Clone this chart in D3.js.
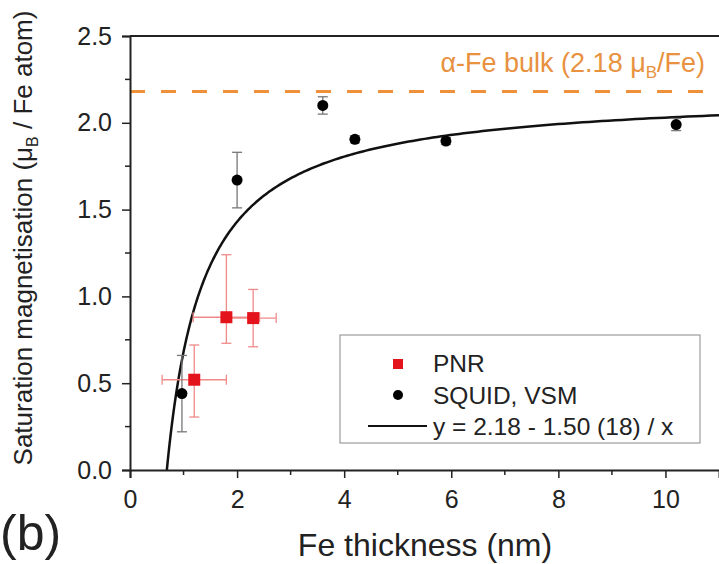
<!DOCTYPE html>
<html>
<head>
<meta charset="utf-8">
<script src="https://cdn.jsdelivr.net/npm/d3@7"></script>
<style>
  body { margin: 0; background: #fff; }
  text { font-family: "Liberation Sans", Arial, sans-serif; }
</style>
</head>
<body>
<div id="chart"></div>
<script>
var svgWidth = 719;
var svgHeight = 564;

var margin = { top: 36, right: 0, bottom: 94, left: 130 };
var width = svgWidth - margin.left - margin.right;
var height = svgHeight - margin.top - margin.bottom;

// PNR points (red squares) with x and y error bars
var pnrX = [1.2, 1.8, 2.3];
var pnrY = [0.52, 0.88, 0.875];
var pnrXErr = [0.6, 0.62, 0.43];
var pnrYLo = [0.305, 0.73, 0.71];
var pnrYHi = [0.72, 1.24, 1.04];

// SQUID / VSM points (black dots)
var squidX = [0.97, 2.0, 3.6, 4.2, 5.9, 10.2];
var squidY = [0.44, 1.67, 2.10, 1.905, 1.895, 1.99];
var squidYErr = [0.22, 0.16, 0.05, 0.02, 0.02, 0.035];

// fit y = a - b / x, bulk value
var bulk = 2.18;
var fitB = 1.50;

var xTicks = [0, 2, 4, 6, 8, 10];
var yTicks = [0.0, 0.5, 1.0, 1.5, 2.0, 2.5];

var svg = d3.select("#chart")
  .append("svg")
  .attr("width", svgWidth)
  .attr("height", svgHeight);

var chartGroup = svg.append("g")
  .attr("transform", `translate(${margin.left}, ${margin.top})`);

var xScale = d3.scaleLinear().domain([0, 11]).range([0, width]);
var yScale = d3.scaleLinear().domain([0, 2.5]).range([height, 0]);

// frame top line
chartGroup.append("line")
  .attr("x1", 0).attr("x2", width)
  .attr("y1", 0).attr("y2", 0)
  .attr("stroke", "#222").attr("stroke-width", 1.8);

// bulk dashed line
chartGroup.append("line")
  .attr("x1", 0).attr("x2", width)
  .attr("y1", yScale(bulk)).attr("y2", yScale(bulk))
  .attr("stroke", "#f0903a")
  .attr("stroke-width", 3)
  .attr("stroke-dasharray", "15,16");

chartGroup.append("text")
  .attr("x", xScale(10.74))
  .attr("y", yScale(bulk) - 20)
  .attr("text-anchor", "end")
  .attr("fill", "#e8913f")
  .attr("font-size", 27)
  .html('α-Fe bulk (2.18 μ<tspan font-size="17" dy="6">B</tspan><tspan dy="-6">/Fe)</tspan>');

// fit curve
var x0 = fitB / bulk;
var fitXs = d3.range(0, 201).map(i => x0 * Math.pow(11 / x0, i / 200));
var line = d3.line()
  .x(d => xScale(d))
  .y(d => yScale(bulk - fitB / d));
chartGroup.append("path")
  .datum(fitXs)
  .attr("d", line)
  .attr("fill", "none")
  .attr("stroke", "#111")
  .attr("stroke-width", 2.5);

// PNR error bars
var pnrData = pnrX.map((x, i) => ({ x: x, y: pnrY[i], xe: pnrXErr[i], lo: pnrYLo[i], hi: pnrYHi[i] }));
var pnrErr = chartGroup.append("g")
  .attr("stroke", "#f08a8a")
  .attr("stroke-width", 1.3);
pnrData.forEach(function(d) {
  pnrErr.append("line")
    .attr("x1", xScale(d.x)).attr("x2", xScale(d.x))
    .attr("y1", yScale(d.lo)).attr("y2", yScale(d.hi));
  pnrErr.append("line")
    .attr("x1", xScale(d.x - d.xe)).attr("x2", xScale(d.x + d.xe))
    .attr("y1", yScale(d.y)).attr("y2", yScale(d.y));
  [d.lo, d.hi].forEach(v => pnrErr.append("line")
    .attr("x1", xScale(d.x) - 5).attr("x2", xScale(d.x) + 5)
    .attr("y1", yScale(v)).attr("y2", yScale(v)));
  [d.x - d.xe, d.x + d.xe].forEach(v => pnrErr.append("line")
    .attr("x1", xScale(v)).attr("x2", xScale(v))
    .attr("y1", yScale(d.y) - 5).attr("y2", yScale(d.y) + 5));
});

// SQUID error bars
var squidData = squidX.map((x, i) => ({ x: x, y: squidY[i], e: squidYErr[i] }));
var squidErr = chartGroup.append("g")
  .attr("stroke", "#777")
  .attr("stroke-width", 1.3);
squidData.forEach(function(d) {
  squidErr.append("line")
    .attr("x1", xScale(d.x)).attr("x2", xScale(d.x))
    .attr("y1", yScale(d.y - d.e)).attr("y2", yScale(d.y + d.e));
  [d.y - d.e, d.y + d.e].forEach(v => squidErr.append("line")
    .attr("x1", xScale(d.x) - 5).attr("x2", xScale(d.x) + 5)
    .attr("y1", yScale(v)).attr("y2", yScale(v)));
});

// markers
chartGroup.selectAll("rect.pnr")
  .data(pnrData)
  .enter()
  .append("rect")
  .attr("class", "pnr")
  .attr("x", d => xScale(d.x) - 6)
  .attr("y", d => yScale(d.y) - 6)
  .attr("width", 12).attr("height", 12)
  .attr("fill", "#e3141b");

chartGroup.selectAll("circle.squid")
  .data(squidData)
  .enter()
  .append("circle")
  .attr("class", "squid")
  .attr("cx", d => xScale(d.x))
  .attr("cy", d => yScale(d.y))
  .attr("r", 5.5)
  .attr("fill", "#000");

// axes
var bottomAxis = d3.axisBottom(xScale).tickValues(xTicks).tickFormat(d3.format("d")).tickSizeOuter(0).tickSize(8).tickPadding(12);
var leftAxis = d3.axisLeft(yScale).tickValues(yTicks).tickFormat(d3.format(".1f")).tickSizeOuter(0).tickSize(8).tickPadding(10);

var xAxis = chartGroup.append("g")
  .attr("transform", `translate(0, ${height})`)
  .call(bottomAxis);
var yAxis = chartGroup.append("g")
  .call(leftAxis);

// minor ticks
xAxis.selectAll("line.minor")
  .data([1, 3, 5, 7, 9])
  .enter().append("line")
  .attr("class", "minor")
  .attr("x1", d => xScale(d)).attr("x2", d => xScale(d))
  .attr("y1", 0).attr("y2", 5)
  .attr("stroke", "#222").attr("stroke-width", 1.5);
yAxis.selectAll("line.minor")
  .data([0.25, 0.75, 1.25, 1.75, 2.25])
  .enter().append("line")
  .attr("class", "minor")
  .attr("x1", 0).attr("x2", -5)
  .attr("y1", d => yScale(d)).attr("y2", d => yScale(d))
  .attr("stroke", "#222").attr("stroke-width", 1.5);

[xAxis, yAxis].forEach(function(ax) {
  ax.select(".domain").attr("stroke", "#222").attr("stroke-width", 2);
  ax.selectAll(".tick line").attr("stroke", "#222").attr("stroke-width", 1.5);
  ax.selectAll(".tick text")
    .attr("fill", "#222")
    .attr("font-size", 25);
});

// legend
var legend = chartGroup.append("g")
  .attr("transform", `translate(${340 - margin.left}, ${335 - margin.top})`);
legend.append("rect")
  .attr("width", 360).attr("height", 108)
  .attr("fill", "#fff")
  .attr("stroke", "#888").attr("stroke-width", 1);
legend.append("rect")
  .attr("x", 53).attr("y", 24).attr("width", 10).attr("height", 10)
  .attr("fill", "#e3141b");
legend.append("circle")
  .attr("cx", 58).attr("cy", 60).attr("r", 5)
  .attr("fill", "#000");
legend.append("line")
  .attr("x1", 28).attr("x2", 87).attr("y1", 91).attr("y2", 91)
  .attr("stroke", "#111").attr("stroke-width", 2);
var legendLabels = ["PNR", "SQUID, VSM", "y = 2.18 - 1.50 (18) / x"];
legend.selectAll("text.lab")
  .data(legendLabels)
  .enter().append("text")
  .attr("class", "lab")
  .attr("x", 93)
  .attr("y", (d, i) => 37 + i * 31.5)
  .attr("font-size", 24.5)
  .attr("fill", "#222")
  .text(d => d);

// axis titles
svg.append("text")
  .attr("x", 425)
  .attr("y", 556)
  .attr("text-anchor", "middle")
  .attr("font-size", 32)
  .attr("fill", "#222")
  .text("Fe thickness (nm)");

svg.append("text")
  .attr("transform", "translate(32, 238) rotate(-90)")
  .attr("text-anchor", "middle")
  .attr("font-size", 26)
  .attr("fill", "#222")
  .html('Saturation magnetisation (μ<tspan font-size="16" dy="6">B</tspan><tspan dy="-6"> / Fe atom)</tspan>');

svg.append("text")
  .attr("x", 0)
  .attr("y", 550)
  .attr("font-size", 50)
  .attr("fill", "#222")
  .text("(b)");
</script>
</body>
</html>
